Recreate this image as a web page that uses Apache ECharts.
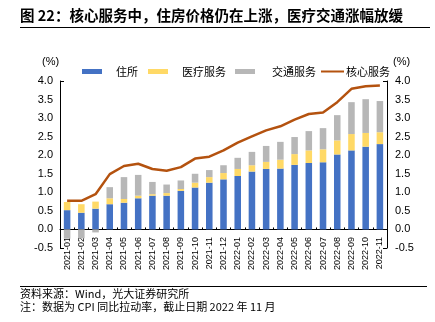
<!DOCTYPE html>
<html><head><meta charset="utf-8">
<script src="https://cdn.jsdelivr.net/npm/echarts@6/dist/echarts.min.js"></script>
<style>html,body{margin:0;padding:0;background:#fff}#c{width:435px;height:322px}</style>
</head><body><div id="c"></div>
<script>
var categories = ['2021-01','2021-02','2021-03','2021-04','2021-05','2021-06','2021-07','2021-08','2021-09','2021-10','2021-11','2021-12','2022-01','2022-02','2022-03','2022-04','2022-05','2022-06','2022-07','2022-08','2022-09','2022-10','2022-11'];
var housing = [0.52,0.45,0.56,0.68,0.72,0.84,0.91,0.91,1.04,1.13,1.26,1.35,1.44,1.56,1.63,1.64,1.74,1.79,1.81,2.02,2.13,2.23,2.30];
var medical = [0.22,0.23,0.19,0.16,0.10,0.07,0.04,0.07,0.05,0.13,0.15,0.17,0.19,0.17,0.19,0.24,0.29,0.34,0.35,0.38,0.44,0.37,0.32];
var transport = [-0.25,-0.24,-0.08,0.30,0.59,0.56,0.33,0.23,0.23,0.24,0.19,0.21,0.30,0.36,0.43,0.48,0.46,0.52,0.57,0.68,0.86,0.91,0.84];
var core = [0.77,0.77,0.95,1.49,1.71,1.77,1.63,1.58,1.68,1.91,1.96,2.13,2.34,2.51,2.67,2.78,2.96,3.11,3.15,3.43,3.79,3.86,3.88];
var yTicks = {min:-0.5, max:4.0, interval:0.5};

var FONT = '"Liberation Sans","Noto Sans CJK SC",sans-serif';
var CJK = '"Noto Sans CJK SC","Liberation Sans",sans-serif';
var chart = echarts.init(document.getElementById('c'));
function leg(name, left, pad, icon){
  return {show:true, left:left, top:61, itemWidth: icon==='line'?23:20, itemHeight: icon==='line'?2:5,
    data:[{name:name, icon:'rect'}], selectedMode:false,
    textStyle:{fontFamily:CJK, fontSize:11, color:'#000', padding:[0,0,0,pad]}};
}
var yAxisCommon = {
  type:'value', min:yTicks.min, max:yTicks.max, interval:yTicks.interval,
  splitLine:{show:false},
  axisLine:{show:true, lineStyle:{color:'#000', width:1}},
  axisTick:{show:true, inside:true, length:4, customValues:[-0.5,4.0], lineStyle:{color:'#000'}},
  axisLabel:{fontFamily:FONT, fontSize:11, color:'#000', formatter:function(v){return v.toFixed(1);}}
};
chart.setOption({
  animation:false,
  grid:{left:60, right:48, top:81, bottom:74},
  legend:[leg('住所',77,9), leg('医疗服务',143,9), leg('交通服务',230,12), leg('核心服务',316,-3,'line')],
  xAxis:{type:'category', data:categories, boundaryGap:true,
    axisLine:{onZero:true, lineStyle:{color:'#000', width:1}},
    axisTick:{show:true, inside:true, length:2, lineStyle:{color:'#000'}},
    axisLabel:{rotate:90, interval:0, fontFamily:FONT, fontSize:9, color:'#000', margin:-11}},
  yAxis:[
    Object.assign({}, yAxisCommon, {position:'left', axisLabel:Object.assign({}, yAxisCommon.axisLabel, {margin:7})}),
    Object.assign({}, yAxisCommon, {position:'right', axisLabel:Object.assign({}, yAxisCommon.axisLabel, {margin:8})})
  ],
  series:[
    {name:'住所', type:'bar', stack:'s', data:housing, barWidth:'46%', itemStyle:{color:'#4472C4'}},
    {name:'医疗服务', type:'bar', stack:'s', data:medical, barWidth:'46%', itemStyle:{color:'#FFD966'}},
    {name:'交通服务', type:'bar', stack:'s', data:transport, barWidth:'46%', itemStyle:{color:'#B7B7B7'}},
    {name:'核心服务', type:'line', data:core, symbol:'none', itemStyle:{color:'#B4520F'}, lineStyle:{color:'#B4520F', width:2.5}, z:5}
  ],
  graphic:[
    {type:'text', left:20, top:8, style:{text:'图 22：核心服务中，住房价格仍在上涨，医疗交通涨幅放缓', font:'bold 14.5px "Noto Sans CJK SC"', fill:'#000'}},
    {type:'line', shape:{x1:20, y1:27.5, x2:430, y2:27.5}, style:{stroke:'#000', lineWidth:1}},
    {type:'text', left:42, top:56, style:{text:'(%)', font:'11px "Liberation Sans"', fill:'#000'}},
    {type:'text', left:393, top:56, style:{text:'(%)', font:'11px "Liberation Sans"', fill:'#000'}},
    {type:'line', shape:{x1:20, y1:286.5, x2:427, y2:286.5}, style:{stroke:'#000', lineWidth:1}},
    {type:'text', left:20, top:288, style:{text:'资料来源：Wind，光大证券研究所', font:'11px "Noto Sans CJK SC"', fill:'#000'}},
    {type:'text', left:20, top:301, style:{text:'注：数据为 CPI 同比拉动率，截止日期 2022 年 11 月', font:'11px "Noto Sans CJK SC"', fill:'#000'}}
  ]
});
</script></body></html>
